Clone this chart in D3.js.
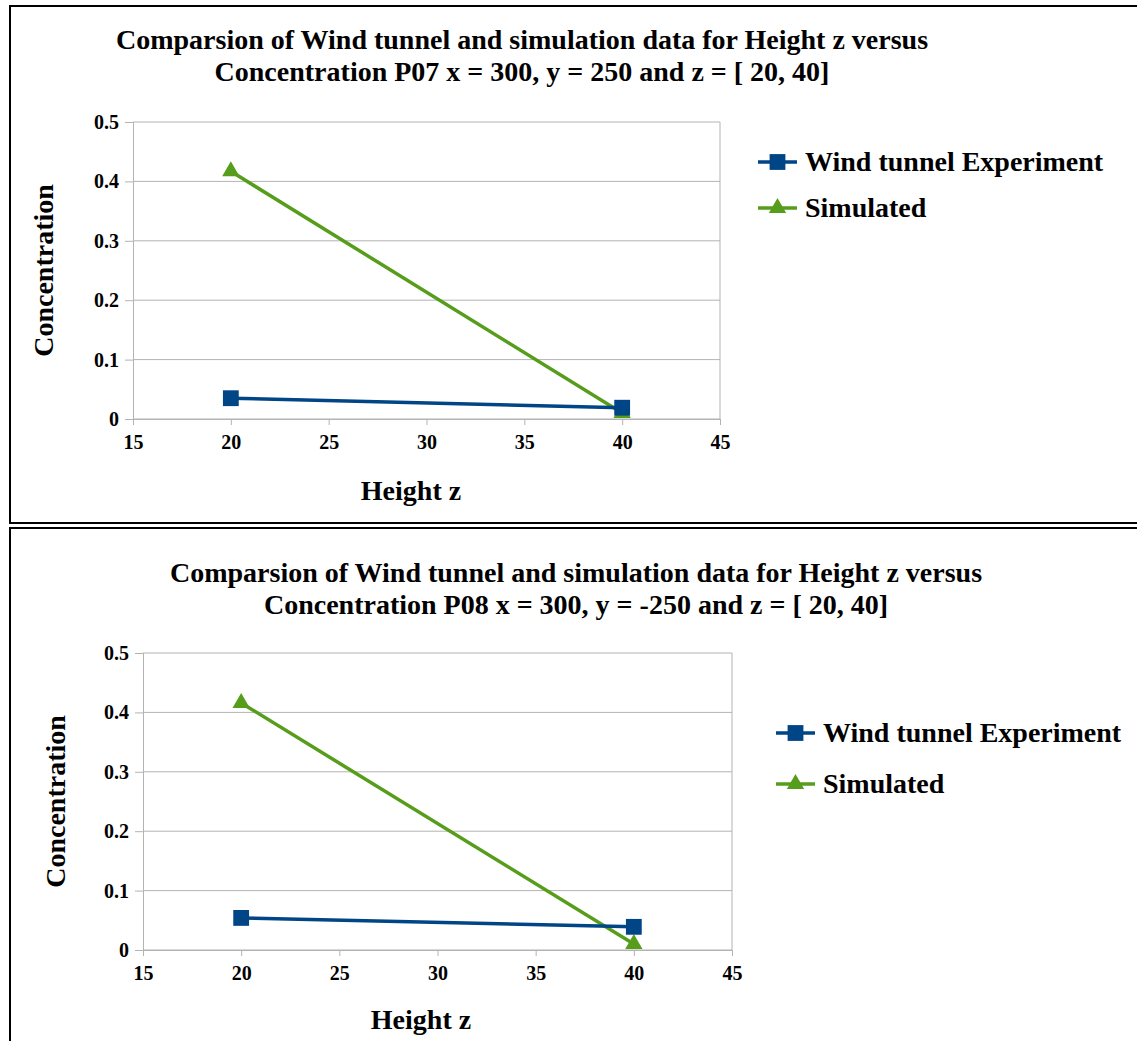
<!DOCTYPE html>
<html>
<head>
<meta charset="utf-8">
<script src="https://cdn.jsdelivr.net/npm/d3@7"></script>
<style>
  html, body { margin: 0; padding: 0; background: #fff; }
  svg { display: block; }
  text { font-family: "Liberation Serif", "DejaVu Serif", serif; font-weight: bold; fill: #000; }
</style>
</head>
<body>
<svg id="chart" width="1137" height="1041"></svg>
<script>
// Heights (z) at which concentration was sampled
const heights = [20, 40];

// Probe P07: x = 300, y = 250
const p07Experiment = [0.035, 0.019];
const p07Simulated  = [0.417, 0.010];

// Probe P08: x = 300, y = -250
const p08Experiment = [0.054, 0.039];
const p08Simulated  = [0.416, 0.010];

const xTicks = [15, 20, 25, 30, 35, 40, 45];
const yTicks = [0, 0.1, 0.2, 0.3, 0.4, 0.5];

const seriesNames = ["Wind tunnel Experiment", "Simulated"];
const seriesColors = ["#004586", "#579d1c"];

const panels = [
  {
    titleLines: ["Comparsion of Wind tunnel and simulation data for Height z versus",
                 "Concentration P07 x = 300, y = 250 and z = [ 20, 40]"],
    experiment: p07Experiment, simulated: p07Simulated,
    box: {x: 10, y: 6, w: 1140, h: 517},
    titleX: 522, titleY: 49,
    plot: {left: 133, right: 720, top: 122, bottom: 419},
    yLabelX: 53, xLabel: {x: 411, y: 500},
    legend: {x: 758, y: 162, gap: 46}
  },
  {
    titleLines: ["Comparsion of Wind tunnel and simulation data for Height z versus",
                 "Concentration P08 x = 300, y = -250 and z = [ 20, 40]"],
    experiment: p08Experiment, simulated: p08Simulated,
    box: {x: 10, y: 528, w: 1140, h: 530},
    titleX: 576, titleY: 582,
    plot: {left: 143, right: 732, top: 653, bottom: 950},
    yLabelX: 65, xLabel: {x: 421, y: 1029},
    legend: {x: 776, y: 733, gap: 51}
  }
];

const svg = d3.select("#chart");

panels.forEach(p => {
  const g = svg.append("g");

  // frame
  g.append("rect")
    .attr("x", p.box.x).attr("y", p.box.y)
    .attr("width", p.box.w).attr("height", p.box.h)
    .attr("fill", "none").attr("stroke", "#000").attr("stroke-width", 2);

  // title
  const title = g.append("text")
    .attr("x", p.titleX).attr("y", p.titleY)
    .attr("text-anchor", "middle")
    .style("font-size", "28px");
  p.titleLines.forEach((line, i) => {
    title.append("tspan").attr("x", p.titleX).attr("dy", i === 0 ? 0 : 32).text(line);
  });

  const x = d3.scaleLinear().domain([15, 45]).range([p.plot.left, p.plot.right]);
  const y = d3.scaleLinear().domain([0, 0.5]).range([p.plot.bottom, p.plot.top]);

  // horizontal grid
  g.append("g").selectAll("line").data(yTicks).join("line")
    .attr("x1", p.plot.left).attr("x2", p.plot.right)
    .attr("y1", d => y(d)).attr("y2", d => y(d))
    .attr("stroke", "#b3b3b3").attr("stroke-width", 1);

  // right edge of plot area
  g.append("line")
    .attr("x1", p.plot.right).attr("x2", p.plot.right)
    .attr("y1", p.plot.top).attr("y2", p.plot.bottom)
    .attr("stroke", "#b3b3b3");

  // axes
  const yAxis = g.append("g")
    .attr("transform", `translate(${p.plot.left},0)`)
    .call(d3.axisLeft(y).tickValues(yTicks).tickSize(8).tickPadding(6)
      .tickFormat(d => d === 0 ? "0" : d3.format(".1f")(d)));
  const xAxis = g.append("g")
    .attr("transform", `translate(0,${p.plot.bottom})`)
    .call(d3.axisBottom(x).tickValues(xTicks).tickSize(6).tickPadding(10));
  [xAxis, yAxis].forEach(ax => {
    ax.select(".domain").attr("stroke", "#b3b3b3");
    ax.selectAll(".tick line").attr("stroke", "#b3b3b3");
    ax.selectAll("text")
      .style("font-family", '"Liberation Serif", serif')
      .style("font-weight", "bold")
      .style("font-size", "20px")
      .attr("fill", "#000");
  });

  // axis titles
  g.append("text")
    .attr("transform", `translate(${p.yLabelX},${(p.plot.top + p.plot.bottom) / 2}) rotate(-90)`)
    .attr("text-anchor", "middle")
    .style("font-size", "28px")
    .text("Concentration");
  g.append("text")
    .attr("x", p.xLabel.x)
    .attr("y", p.xLabel.y)
    .attr("text-anchor", "middle")
    .style("font-size", "28px")
    .text("Height z");

  const line = d3.line().x(d => x(d[0])).y(d => y(d[1]));
  const series = [
    heights.map((h, i) => [h, p.experiment[i]]),
    heights.map((h, i) => [h, p.simulated[i]])
  ];
  const symbols = [d3.symbolSquare, d3.symbolTriangle];
  const symbolSizes = [250, 130];

  // simulated first so the experiment line sits above it
  [1, 0].forEach(si => {
    g.append("path").datum(series[si])
      .attr("d", line)
      .attr("fill", "none")
      .attr("stroke", seriesColors[si])
      .attr("stroke-width", 3.5);
    g.append("g").selectAll("path").data(series[si]).join("path")
      .attr("transform", d => `translate(${x(d[0])},${y(d[1])})`)
      .attr("d", d3.symbol().type(symbols[si]).size(symbolSizes[si]))
      .attr("fill", seriesColors[si]);
  });

  // legend
  seriesNames.forEach((name, i) => {
    const ly = p.legend.y + i * p.legend.gap;
    const lg = g.append("g").attr("transform", `translate(${p.legend.x},${ly})`);
    lg.append("line").attr("x1", 0).attr("x2", 39).attr("y1", 0).attr("y2", 0)
      .attr("stroke", seriesColors[i]).attr("stroke-width", 3.5);
    lg.append("path").attr("transform", "translate(19.5,0)")
      .attr("d", d3.symbol().type(symbols[i]).size(symbolSizes[i]))
      .attr("fill", seriesColors[i]);
    lg.append("text").attr("x", 47).attr("y", 9)
      .style("font-size", "28px").text(name);
  });
});
</script>
</body>
</html>
